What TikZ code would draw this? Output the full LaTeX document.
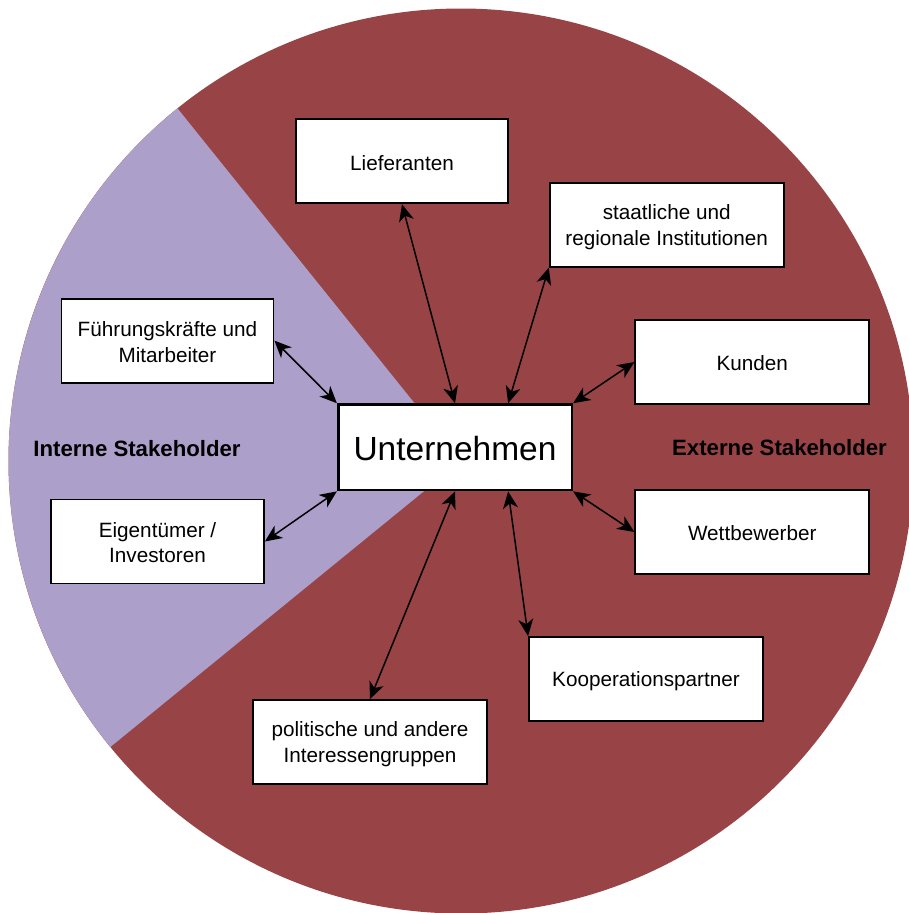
\documentclass[tikz,border=0pt]{standalone}
\usepackage{fontspec}
\setmainfont{Liberation Sans}
\usetikzlibrary{arrows.meta,calc}
\definecolor{extred}{HTML}{984446}
\definecolor{intpurple}{HTML}{ACA0CA}
\newcommand{\lnstrut}{\rule[-2.1pt]{0pt}{21.6pt}}
\newcommand{\bigstrut}{\rule{0pt}{27.4pt}}
\begin{document}
\begin{tikzpicture}[x=1pt,y=-1pt,
  box/.style={draw=black,line width=1.8pt,fill=white,inner sep=0pt,
    minimum height=84pt,minimum width=#1,align=center,
    font=\fontsize{20.7}{25.4}\selectfont},
  box/.default=234pt,
  grouplbl/.style={anchor=base,inner sep=0pt,font=\fontsize{22.2}{26}\selectfont\bfseries,text=black},
  biarrow/.style={{Stealth[length=17pt,width=15pt,inset=5pt]}-{Stealth[length=17pt,width=15pt,inset=5pt]},line width=1.5pt,draw=black}]
\clip (0,0) rectangle (909,913);
\useasboundingbox (0,0) rectangle (909,913);
% pie background
\fill[extred] (461,461) circle[radius=452.5];
\fill[intpurple] (461,461) -- ++(231.2:452.5) arc[start angle=231.2,end angle=140.8,radius=452.5] -- cycle;
% group labels
\node[grouplbl] (intlbl) at (137,456.7) {Interne Stakeholder};
\node[grouplbl] (extlbl) at (779.5,455) {Externe Stakeholder};
% boxes
\node[box=212pt] (L) at (402,161.3) {\lnstrut Lieferanten};
\node[box] (S) at (666.7,224.7) {\lnstrut staatliche und\\\lnstrut regionale Institutionen};
\node[box] (K) at (752.3,362) {\lnstrut Kunden};
\node[box] (W) at (752.3,532) {\lnstrut Wettbewerber};
\node[box] (Ko) at (646,679) {\lnstrut Kooperationspartner};
\node[box] (P) at (370,742) {\lnstrut politische und andere\\\lnstrut Interessengruppen};
\node[box=213pt] (E) at (157.5,541.5) {\lnstrut Eigentümer /\\\lnstrut Investoren};
\node[box=212pt] (F) at (167.5,340.6) {\lnstrut Führungskräfte und\\\lnstrut Mitarbeiter};
\node[box=233.6pt,minimum height=85.5pt,line width=2.6pt,font=\fontsize{33.5}{38}\selectfont] (U) at (455,447.3) {\bigstrut Unternehmen};
% connectors
\draw[biarrow] (L.south) -- (U.north);
\draw[biarrow] (S.south west) -- ($(U.north)!0.45!(U.north east)$);
\draw[biarrow] (K.west) -- (U.north east);
\draw[biarrow] (W.west) -- (U.south east);
\draw[biarrow] ($(U.south)!0.45!(U.south east)$) -- (Ko.north west);
\draw[biarrow] (U.south) -- (P.north);
\draw[biarrow] (E.east) -- (U.south west);
\draw[biarrow] (F.east) -- (U.north west);
\end{tikzpicture}
\end{document}
